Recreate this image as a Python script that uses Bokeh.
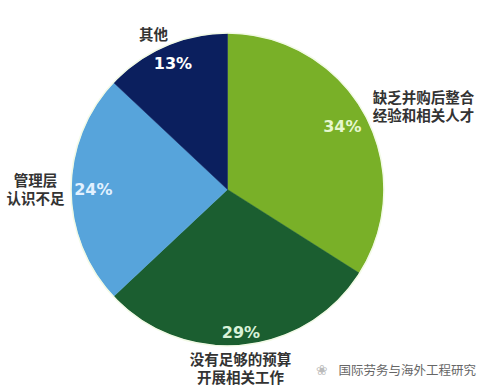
import math
from bokeh.plotting import figure
from bokeh.models import Range1d, ColumnDataSource
from bokeh.core.properties import value
from bokeh.embed import file_html
from bokeh.resources import INLINE

# ---- data ----
categories = ["缺乏并购后整合\n经验和相关人才", "没有足够的预算\n开展相关工作", "管理层\n认识不足", "其他"]
shares = [34, 29, 24, 13]
pct_labels = ["34%", "29%", "24%", "13%"]
colors = ["#79B028", "#1B5E30", "#57A4DB", "#0B1F5E"]
pct_colors = ["#E6F7CF", "#D9F2D9", "#E2F1FF", "#FFFFFF"]
watermark = "国际劳务与海外工程研究"

# ---- layout (page pixel space, y downward converted) ----
W, H = 484, 392
cx, cy_page, R = 227, 189, 156
def Y(py):
    return H - py
cy = Y(cy_page)

total = sum(shares)
starts, ends, mids = [], [], []
cum = 0.0
for s in shares:
    a0 = math.pi / 2 - 2 * math.pi * cum / total
    cum += s
    a1 = math.pi / 2 - 2 * math.pi * cum / total
    starts.append(a0); ends.append(a1); mids.append((a0 + a1) / 2)

p = figure(width=W, height=H, output_backend="svg", toolbar_location=None,
           x_range=Range1d(0, W), y_range=Range1d(0, H),
           min_border=0)
p.axis.visible = False
p.grid.visible = False
p.outline_line_color = None
p.background_fill_color = "white"
p.border_fill_color = "white"

src = ColumnDataSource(dict(start=starts, end=ends, color=colors))
p.wedge(x=cx, y=cy, radius=R, start_angle="start", end_angle="end",
        direction="clock", fill_color="color", line_color="color", line_width=0.5,
        source=src)
p.circle(x=cx, y=cy, radius=R + 0.5, fill_color=None, line_color="#F2FAE6", line_width=1.5)

# percentage labels on slices
pct_r = [0.84, 0.92, 0.86, 0.88]
px = [cx + R * f * math.cos(m) for f, m in zip(pct_r, mids)]
py = [cy + R * f * math.sin(m) for f, m in zip(pct_r, mids)]
p.text(x=px, y=py, text=pct_labels, text_color=pct_colors,
       text_font=value("DejaVu Sans"), text_font_style="bold", text_font_size="16px",
       text_align="center", text_baseline="middle")

# category labels outside
cat_offsets = [(196, 84), (13, -178), (-192, 1), (-74, 156)]
lx = [cx + dx for dx, dy in cat_offsets]
ly = [cy + dy for dx, dy in cat_offsets]
p.text(x=lx, y=ly, text=categories, text_color="#333333",
       text_font=value("Noto Sans CJK SC"), text_font_size="14.5px",
       text_font_style="bold", text_line_height=0.82,
       text_align="center", text_baseline="middle")

# watermark
p.text(x=[338], y=[Y(369)], text=[watermark], text_color="#666666",
       text_font=value("Noto Sans CJK SC"), text_font_size="12.5px",
       text_align="left", text_baseline="middle")
p.text(x=[321], y=[Y(369)], text=["❀"], text_color="#BBBBBB",
       text_font=value("DejaVu Sans"), text_font_size="14px",
       text_align="center", text_baseline="middle")

open("out.html", "w").write(file_html(p, INLINE))
